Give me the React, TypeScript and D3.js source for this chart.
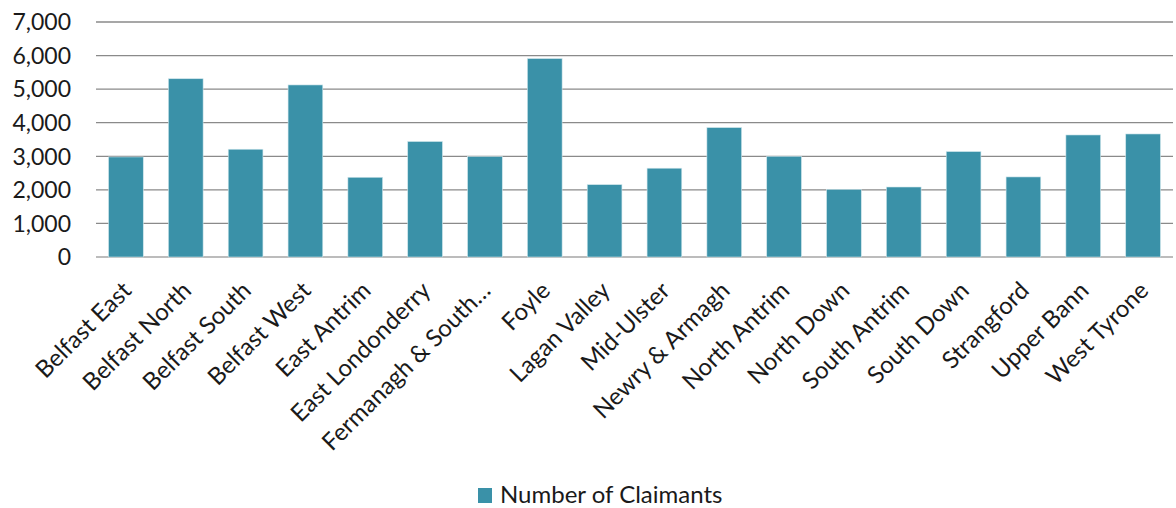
import React from 'react';
import * as d3 from 'd3';

const constituencies = [
  'Belfast East', 'Belfast North', 'Belfast South', 'Belfast West', 'East Antrim',
  'East Londonderry', 'Fermanagh & South…', 'Foyle', 'Lagan Valley', 'Mid-Ulster',
  'Newry & Armagh', 'North Antrim', 'North Down', 'South Antrim', 'South Down',
  'Strangford', 'Upper Bann', 'West Tyrone',
];
const claimants = [
  2980, 5310, 3210, 5125, 2375,
  3440, 2990, 5910, 2155, 2645,
  3855, 3000, 2015, 2085, 3140,
  2385, 3635, 3665,
];
const yTicks = [0, 1000, 2000, 3000, 4000, 5000, 6000, 7000];
const seriesName = 'Number of Claimants';

const W = 1176;
const H = 508;
const margin = { top: 22, right: 3, bottom: 251, left: 96 };
const barColor = '#3a91a8';
const font = 'Lato, "Open Sans", sans-serif';

export default function App() {
  const x = d3.scaleBand()
    .domain(constituencies)
    .range([margin.left, W - margin.right])
    .paddingInner(0.42)
    .paddingOuter(0.21);
  const y = d3.scaleLinear()
    .domain([0, 7000])
    .range([H - margin.bottom, margin.top]);
  const fmt = d3.format(',');

  return (
    <svg width={W} height={H} style={{ position: 'absolute', left: 0, top: 0, background: '#fff' }}>
      {/* grid */}
      {yTicks.map(t => (
        <g key={t}>
          <line x1={margin.left} x2={W - margin.right} y1={y(t)} y2={y(t)}
            stroke={t === 0 ? '#a6a6a6' : '#8a8a8a'} strokeWidth={1.3} />
          <text x={71} y={y(t)} dy="0.36em" textAnchor="end"
            fontFamily={font} fontSize={23} fill="#1a1a1a">{fmt(t)}</text>
        </g>
      ))}

      {/* bars */}
      {constituencies.map((c, i) => (
        <rect key={c} x={x(c)!} y={y(claimants[i])} width={x.bandwidth()}
          height={y(0) - y(claimants[i])} fill={barColor}
          stroke="#cfe6ec" strokeWidth={0.6} />
      ))}

      {/* category labels */}
      {constituencies.map(c => {
        const cx = x(c)! + x.bandwidth() / 2 + 7;
        const cy = y(0) + 35;
        return (
          <text key={c} x={cx} y={cy} textAnchor="end"
            transform={`rotate(-45 ${cx} ${cy})`}
            fontFamily={font} fontSize={24} fill="#1a1a1a">{c}</text>
        );
      })}

      {/* legend */}
      <rect x={478} y={488} width={14} height={15} fill={barColor} />
      <text x={500} y={503} fontFamily={font} fontSize={24} fill="#1a1a1a">{seriesName}</text>
    </svg>
  );
}
